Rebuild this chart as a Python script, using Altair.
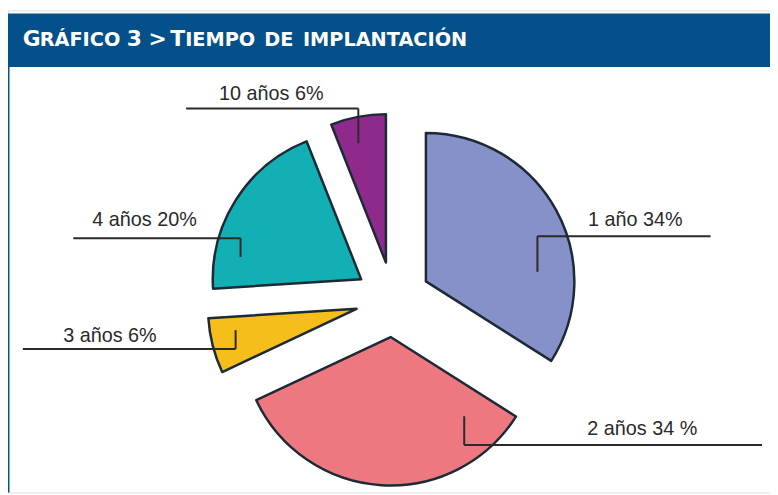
import math
import altair as alt
import pandas as pd

# ---- data ----
categorias = ["1 año", "2 años", "3 años", "4 años", "10 años"]
porcentajes = [34, 34, 6, 20, 6]
etiquetas = ["1 año 34%", "2 años 34 %", "3 años 6%", "4 años 20%", "10 años 6%"]
colores = ["#8690C9", "#EE7880", "#F6BE1A", "#12AFB5", "#8E2A8C"]

titulo_partes = ["G", "RÁFICO", "3", ">", "T", "IEMPO", "DE", "IMPLANTACIÓN"]
titulo_mayor = [True, False, True, True, True, False, False, False]

# ---- layout (pixel positions inside the plot area) ----
W, H = 770, 487
CX, CY, R, EXPLODE = 389, 292, 150, 38
titulo_x = [15, 32, 120, 142, 164, 179, 259, 298]
etq_x = [634, 641, 103, 138, 266]          # label centres
etq_y = [218, 429, 335, 218, 90]           # label baselines
lin_x0 = [710, 762, 15, 66, 180]           # free end of horizontal leader
lin_xc = [535, 461, 230, 235, 354]         # elbow x
lin_yh = [228, 439, 342, 230, 99]          # horizontal leader y
lin_yv = [264, 410, 323, 249, 134]         # tip of vertical leader

pie = pd.DataFrame({
    "orden": list(range(len(categorias))),
    "categoria": categorias,
    "valor": porcentajes,
})
etq = pd.DataFrame({
    "etiqueta": etiquetas, "tx": etq_x, "ty": etq_y,
    "x0": lin_x0, "xc": lin_xc, "yh": lin_yh, "yv": lin_yv,
})
tit = pd.DataFrame({"texto": titulo_partes, "tx": titulo_x,
                    "mayor": titulo_mayor})

azul = "#03508A"
FONT_LBL = "Liberation Sans, Arial, sans-serif"

barra = alt.Chart(pd.DataFrame({"a": [0]})).mark_rect(color=azul).encode(
    x=alt.value(0), x2=alt.value(W), y=alt.value(3), y2=alt.value(57)
)
borde = alt.Chart(pd.DataFrame({"a": [0]})).mark_rule(color=azul, strokeWidth=1.5).encode(
    x=alt.value(0.75), y=alt.value(57), y2=alt.value(H)
)

tit_big = alt.Chart(tit).transform_filter("datum.mayor").mark_text(
    align="left", baseline="alphabetic", font="DejaVu Sans", fontWeight="bold",
    fontSize=22, color="white"
).encode(x=alt.X("tx:Q", scale=None), y=alt.value(36), text="texto:N")
tit_small = alt.Chart(tit).transform_filter("!datum.mayor").mark_text(
    align="left", baseline="alphabetic", font="DejaVu Sans", fontWeight="bold",
    fontSize=19.5, color="white"
).encode(x=alt.X("tx:Q", scale=None), y=alt.value(36), text="texto:N")

TWO_PI = 2 * math.pi
arcos = alt.Chart(pie).transform_window(
    fin="sum(valor)", sort=[alt.SortField("orden")], frame=[None, 0]
).transform_calculate(
    inicio="datum.fin - datum.valor",
    medio=f"(datum.fin - datum.valor / 2) / 100 * {TWO_PI}",
).transform_calculate(
    px=f"{CX} + {EXPLODE} * sin(datum.medio)",
    py=f"{CY} - {EXPLODE} * cos(datum.medio)",
).mark_arc(radius=R, stroke="#1C2A35", strokeWidth=2.5, strokeJoin="round").encode(
    x=alt.X("px:Q", scale=None),
    y=alt.Y("py:Q", scale=None),
    theta=alt.Theta("inicio:Q", scale=alt.Scale(domain=[0, 100], range=[0, TWO_PI])),
    theta2="fin:Q",
    color=alt.Color("categoria:N", scale=alt.Scale(domain=categorias, range=colores),
                    legend=None),
)

lin_h = alt.Chart(etq).mark_rule(color="#2A2A2A", strokeWidth=2).encode(
    x=alt.X("x0:Q", scale=None), x2="xc:Q",
    y=alt.Y("yh:Q", scale=None), y2="yh:Q",
)
lin_v = alt.Chart(etq).mark_rule(color="#2A2A2A", strokeWidth=2).encode(
    x=alt.X("xc:Q", scale=None), x2="xc:Q",
    y=alt.Y("yh:Q", scale=None), y2="yv:Q",
)
textos = alt.Chart(etq).mark_text(
    align="center", baseline="alphabetic", font=FONT_LBL, fontSize=20, color="#2A2A2A"
).encode(x=alt.X("tx:Q", scale=None), y=alt.Y("ty:Q", scale=None), text="etiqueta:N")

chart = alt.layer(barra, borde, tit_big, tit_small, arcos, lin_h, lin_v, textos).properties(
    width=W, height=H, autosize=alt.AutoSizeParams(type="none"), padding=0
).configure_view(strokeWidth=0).configure(background="white")

chart.save("out.html", embed_options={"renderer": "svg", "actions": False})
